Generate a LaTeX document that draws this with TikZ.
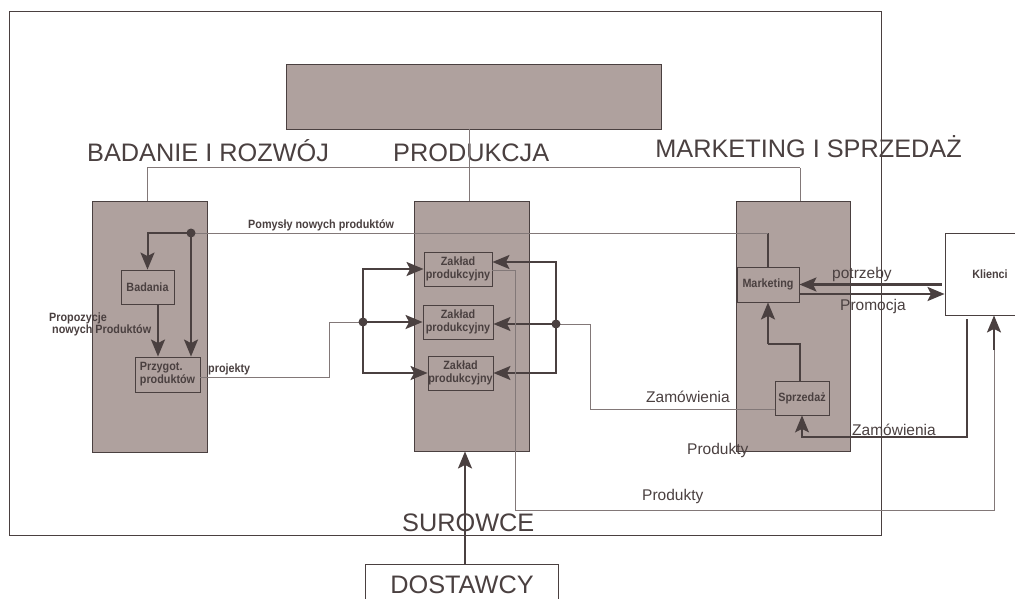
\documentclass[tikz,border=0pt]{standalone}
\usepackage{fontspec}
\setmainfont{Liberation Sans}
\newfontfamily\lab{Liberation Sans}[FakeStretch=0.9]
\usetikzlibrary{arrows.meta,calc}
\definecolor{fillc}{RGB}{175,161,158}
\definecolor{dk}{RGB}{74,64,64}
\definecolor{gl}{RGB}{130,120,120}
\begin{document}
\begin{tikzpicture}[x=1pt,y=-1pt,
  colbox/.style={draw=dk,fill=fillc,line width=0.9pt,inner sep=0pt},
  subbox/.style={draw=dk,fill=fillc,line width=0.9pt,inner sep=0pt,align=center,text=dk,font=\lab\bfseries\fontsize{12}{13}\selectfont},
  whitebox/.style={draw=dk,fill=white,line width=0.9pt,inner sep=0pt,align=center,text=dk},
  titlelab/.style={inner sep=0pt,text=dk,font=\fontsize{25.3}{28}\selectfont},
  midlab/.style={inner sep=0pt,text=dk,font=\fontsize{15.5}{18}\selectfont},
  smalllab/.style={inner sep=0pt,text=dk,font=\lab\bfseries\fontsize{12}{12}\selectfont},
  thinline/.style={draw=gl,line width=1pt},
  darkthin/.style={draw=dk,line width=1.1pt},
  thickline/.style={draw=dk,line width=2pt},
  fatline/.style={draw=dk,line width=2.6pt},
  arr/.style={-{Stealth[length=17pt,width=14pt,inset=3.5pt]}},
  jdot/.style={fill=dk}]
\useasboundingbox (0,0) rectangle (1015,599);
\clip (0,0) rectangle (1015,599);
\fill[white] (0,0) rectangle (1015,599);

% outer frame
\node[draw=dk,line width=1pt,inner sep=0pt,minimum width=872pt,minimum height=523pt] (frame) at (445,273.5) {};

% boxes
\node[colbox,minimum width=375pt,minimum height=65pt] (top) at (473.5,96.5) {};
\node[colbox,minimum width=115pt,minimum height=251pt] (rd) at (149.5,326.5) {};
\node[colbox,minimum width=115pt,minimum height=250pt] (prod) at (471.5,326) {};
\node[colbox,minimum width=114pt,minimum height=250pt] (mk) at (793,326) {};

\node[subbox,minimum width=53pt,minimum height=34pt] (bad) at (147.5,287) {Badania};
\node[subbox,minimum width=65pt,minimum height=35pt,align=left] (prz) at (167.5,374.5) {Przygot.\\produktów};
\node[subbox,minimum width=68pt,minimum height=34pt] (z1) at (458,269) {Zakład\\produkcyjny};
\node[subbox,minimum width=70pt,minimum height=34pt] (z2) at (458,322) {Zakład\\produkcyjny};
\node[subbox,minimum width=65pt,minimum height=34pt] (z3) at (460.5,373) {Zakład\\produkcyjny};
\node[subbox,minimum width=62pt,minimum height=35pt] (mkt) at (768,284.5) {Marketing};
\node[subbox,minimum width=54pt,minimum height=34pt] (sp) at (802,398) {Sprzedaż};
\node[whitebox,font=\lab\bfseries\fontsize{12}{13}\selectfont,minimum width=90pt,minimum height=82pt] (kl) at (990,274) {Klienci};
\node[whitebox,font=\fontsize{25.3}{28}\selectfont,minimum width=193pt,minimum height=42pt] (dost) at (462,585) {DOSTAWCY};

% titles
\node[titlelab,anchor=base west] (t1) at (87,161) {BADANIE I ROZWÓJ};
\node[titlelab,anchor=base west] (t2) at (393,162) {PRODUKCJA};
\node[titlelab,anchor=base east] (t3) at (962,158) {MARKETING I SPRZEDAŻ};
\node[titlelab,anchor=base west] (t4) at (402,531) {SUROWCE};

% org chart connectors
\coordinate (busL) at (147,168);
\coordinate (busR) at (800,168);
\coordinate (pc) at (469,168);
\draw[thinline] (busL) -- (busR);
\draw[thinline] (busL) -- (busL |- rd.north);
\draw[thinline] (busR) -- (busR |- mk.north);
\draw[thinline] (pc |- top.south) -- (pc |- prod.north);

% Pomysly nowych produktow
\coordinate (dotA) at (191,233);
\draw[thickline] (mkt.north) -- (mkt.north |- dotA);
\draw[thinline] (mkt.north |- dotA) -- (dotA);
\draw[thickline,arr] (dotA) -| (bad.north);
\draw[thickline,arr] (dotA) -- (dotA |- prz.north);
\draw[thickline,arr] ($(bad.south)+(10.5,0)$) -- ($(bad.south |- prz.north)+(10.5,0)$);
\fill[jdot] (dotA) circle (4.5);

% projekty
\coordinate (dotL) at (363,322);
\coordinate (pj) at (329,322);
\draw[thinline] ($(prz.east)+(0,2.5)$) -| (pj) -- (dotL);
\draw[thickline,arr] (dotL) |- (z1.west);
\draw[thickline,arr] (dotL) -- (dotL -| z2.west);
\draw[thickline,arr] (dotL) |- (z3.west);
\fill[jdot] (dotL) circle (4.5);

% right junction
\coordinate (dotR) at (556,324);
\draw[thickline,arr] (dotR) |- ($(z1.east)+(0,-7)$);
\draw[thickline,arr] (dotR) -- (dotR -| z2.east);
\draw[thickline,arr] (dotR) |- (z3.east);
\coordinate (zA) at (590,324);
\coordinate (zB) at (590,409);
\draw[thinline] (dotR) -- (zA) -- (zB) -- (zB -| sp.west);
\fill[jdot] (dotR) circle (4.5);

% Produkty to clients
\coordinate (pA) at (515,510);
\coordinate (pB) at (994,510);
\coordinate (pC) at (994,350);
\draw[thinline] ($(z1.east)+(0,1)$) -| (pA) -- (pB) -- (pC);
\draw[darkthin,line width=1.5pt,arr] (pC) -- (pC |- kl.south);

% Sprzedaz to Marketing
\coordinate (sm) at (768,344);
\draw[darkthin] ($(sp.north)+(-2,0)$) |- (sm);
\draw[thickline,arr] (sm) -- (mkt.south);

% Klienci to Sprzedaz
\coordinate (kA) at (967,437);
\draw[darkthin,arr] ($(kA |- kl.south)+(0,4)$) -- (kA) -| (sp.south);

% potrzeby / Promocja
\draw[fatline,arr] ($(kl.west)+(-3,10.5)$) -- (mkt.east);
\draw[fatline,arr] ($(mkt.east)+(0,9.5)$) -- ($(kl.west)+(0,20)$);

% DOSTAWCY to production
\coordinate (dx) at (465,560);
\draw[thickline,arr] (dost.north -| dx) -- (prod.south -| dx);

% labels
\node[smalllab,anchor=base west] (l1) at (248,228) {Pomysły nowych produktów};
\node[smalllab,anchor=base west] (l2) at (49,321) {Propozycje};
\node[smalllab,anchor=base west] (l3) at (52,333) {nowych Produktów};
\node[smalllab,anchor=base west] (l4) at (208,372) {projekty};
\node[midlab,anchor=base east] (l5) at (730,402) {Zamówienia};
\node[midlab,anchor=base west] (l6) at (687,454) {Produkty};
\node[midlab,anchor=base west] (l7) at (852,435) {Zamówienia};
\node[midlab,anchor=base west] (l8) at (642,500) {Produkty};
\node[midlab,anchor=base west] (l9) at (832,278) {potrzeby};
\node[midlab,anchor=base west] (l10) at (840,310) {Promocja};
\end{tikzpicture}
\end{document}
